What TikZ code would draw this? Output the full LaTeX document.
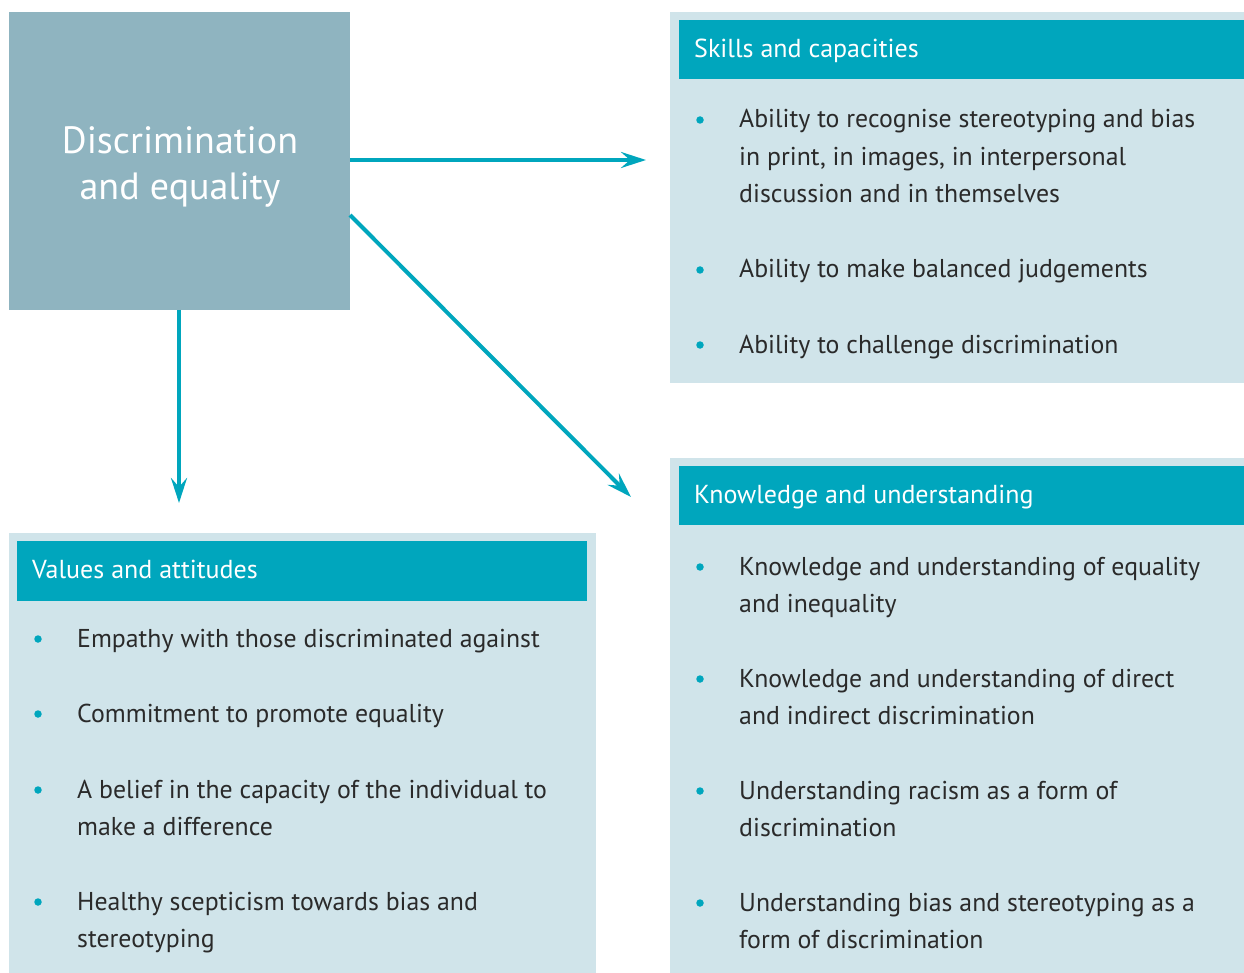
\documentclass[tikz,border=0pt]{standalone}
\usepackage{fontspec}
\setmainfont{PT Sans}
\usetikzlibrary{arrows.meta}
\definecolor{boxgray}{HTML}{8FB4C0}
\definecolor{teal}{HTML}{00A6BD}
\definecolor{panel}{HTML}{D0E4EA}
\definecolor{txt}{HTML}{2A2A2A}
\tikzset{
  panelbg/.style={fill=panel, draw=none},
  headbar/.style={fill=teal, draw=none},
  headtext/.style={anchor=base west, inner sep=0pt, text=white, font=\fontsize{26}{30}\selectfont},
  itemtext/.style={anchor=base west, inner sep=0pt, text=txt, align=left, font=\fontsize{25.8}{37.5}\selectfont},
  bulletdot/.style={circle, fill=teal, draw=none, minimum size=7.5pt, inner sep=0pt},
  conn/.style={draw=teal, line width=4pt, -{Stealth[length=25pt,width=16pt,inset=9pt]}},
}
\begin{document}
\begin{tikzpicture}[x=1pt,y=-1pt]
\useasboundingbox (0,0) rectangle (1244,973);
% main box
\fill[boxgray] (9,12) rectangle (350,310);
% base anchor of a multi-line node is the baseline of its last line
\node[inner sep=0pt, text=white, align=center, font=\fontsize{38}{46}\selectfont, anchor=base] (title) at (180,200) {Discrimination\\and equality};
% panels
\fill[panelbg] (670,12) rectangle (1244,383);
\fill[headbar] (679,20) rectangle (1244,79);
\node[headtext] (skh) at (694,57.5) {Skills and capacities};

\fill[panelbg] (670,458) rectangle (1244,973);
\fill[headbar] (679,466) rectangle (1244,525);
\node[headtext] (knh) at (694,503.5) {Knowledge and understanding};

\fill[panelbg] (9,533) rectangle (596,973);
\fill[headbar] (17,541) rectangle (587,601);
\node[headtext] (vah) at (32,578.5) {Values and attitudes};

% skills items (positions are baselines of the last line)
\node[bulletdot] (b1) at (700,120) {};
\node[itemtext] (s1) at (739,203) {Ability to recognise stereotyping and bias\\in print, in images, in interpersonal\\discussion and in themselves};
\node[bulletdot] (b2) at (700,270) {};
\node[itemtext] (s2) at (739,278) {Ability to make balanced judgements};
\node[bulletdot] (b3) at (700,345) {};
\node[itemtext] (s3) at (739,353) {Ability to challenge discrimination};

% knowledge items
\node[bulletdot] (k1b) at (700,567) {};
\node[itemtext] (k1) at (739,612.5) {Knowledge and understanding of equality\\and inequality};
\node[bulletdot] (k2b) at (700,679) {};
\node[itemtext] (k2) at (739,724.5) {Knowledge and understanding of direct\\and indirect discrimination};
\node[bulletdot] (k3b) at (700,791) {};
\node[itemtext] (k3) at (739,836.5) {Understanding racism as a form of\\discrimination};
\node[bulletdot] (k4b) at (700,903) {};
\node[itemtext] (k4) at (739,948.5) {Understanding bias and stereotyping as a\\form of discrimination};

% values items
\node[bulletdot] (v1b) at (38,639) {};
\node[itemtext] (v1) at (77,647) {Empathy with those discriminated against};
\node[bulletdot] (v2b) at (38,714) {};
\node[itemtext] (v2) at (77,722) {Commitment to promote equality};
\node[bulletdot] (v3b) at (38,790) {};
\node[itemtext] (v3) at (77,835.5) {A belief in the capacity of the individual to\\make a difference};
\node[bulletdot] (v4b) at (38,902) {};
\node[itemtext] (v4) at (77,947.5) {Healthy scepticism towards bias and\\stereotyping};

% connectors
\coordinate (a1s) at (350,160);
\coordinate (a1e) at (646,160);
\coordinate (a2s) at (350,215);
\coordinate (a2e) at (631,497);
\coordinate (a3s) at (179,310);
\coordinate (a3e) at (179,503);
\draw[conn] (a1s) -- (a1e);
\draw[conn] (a2s) -- (a2e);
\draw[conn] (a3s) -- (a3e);
\end{tikzpicture}
\end{document}
